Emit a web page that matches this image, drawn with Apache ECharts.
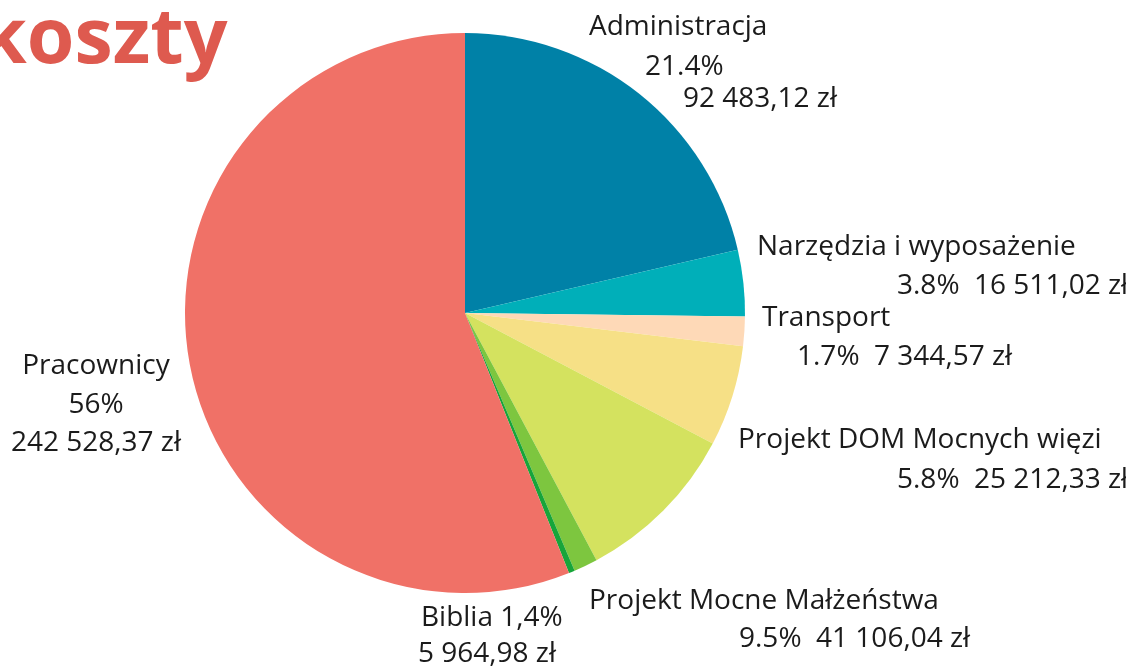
<!DOCTYPE html>
<html>
<head>
<meta charset="utf-8">
<script src="https://cdn.jsdelivr.net/npm/echarts@6/dist/echarts.min.js"></script>
<style>
html,body{margin:0;padding:0;background:#fff;}
#chart{width:1126px;height:667px;}
</style>
</head>
<body>
<div id="chart"></div>
<script>
// ---- data ----
const categories = ['Administracja', 'Narzędzia i wyposażenie', 'Transport', 'Projekt DOM Mocnych więzi', 'Projekt Mocne Małżeństwa', 'Biblia', 'Inne', 'Pracownicy'];
const values = [92483.12, 16511.02, 7344.57, 25212.33, 41106.04, 5964.98, 1500, 242528.37];
const percentLabels = ['21.4%', '3.8%', '1.7%', '5.8%', '9.5%', '1,4%', '', '56%'];
const amountLabels = ['92 483,12 zł', '16 511,02 zł', '7 344,57 zł', '25 212,33 zł', '41 106,04 zł', '5 964,98 zł', '', '242 528,37 zł'];
const title = 'koszty';

// ---- styles / layout ----
const colors = ['#0081A7', '#00AFB9', '#FED9B7', '#F6E086', '#D4E25F', '#7DC63F', '#17A53A', '#F07167'];
function linesFor(i) {
  const n = categories[i], p = percentLabels[i], a = amountLabels[i];
  if (i === 0 || i === 7) return [n, p, a];
  if (i === 5) return [n + ' ' + p, a];
  if (i === 6) return [];
  return [n, p + '  ' + a];
}
// label block layout: x, top y, align, per-line left padding, per-line line height
const labelLayouts = [
  {x: 589, y: 5, align: 'left', pads: [0, 56, 94], lh: [44, 36, 28]},
  {x: 757, y: 227.5, align: 'left', pads: [0, 140], lh: [39, 39]},
  {x: 762, y: 298.5, align: 'left', pads: [0, 35], lh: [39, 39]},
  {x: 738, y: 420, align: 'left', pads: [0, 159], lh: [40, 40]},
  {x: 589, y: 582, align: 'left', pads: [0, 150], lh: [38, 38]},
  {x: 418, y: 600, align: 'left', pads: [3, 0], lh: [36, 36]},
  null,
  {x: 96, y: 346.5, align: 'center', pads: [0, 0, 0], lh: [39, 39, 38]}
];

const fontFamily = '"Open Sans", sans-serif';
const chart = echarts.init(document.getElementById('chart'));

const data = categories.map((name, i) => {
  const lines = linesFor(i);
  const L = labelLayouts[i];
  const rich = {};
  const parts = lines.map((t, k) => {
    rich['l' + k] = {
      fontSize: 28, fontFamily: fontFamily, color: '#1b1b1b',
      lineHeight: L.lh[k], padding: [0, 0, 0, L.pads[k]]
    };
    return '{l' + k + '|' + t + '}';
  });
  return {
    name: name,
    value: values[i],
    itemStyle: {color: colors[i]},
    label: lines.length ? {show: true, formatter: parts.join('\n'), rich: rich} : {show: false}
  };
});

chart.setOption({
  animation: false,
  graphic: [{
    type: 'text', left: -21, top: 3,
    style: {text: title, fontSize: 77, fontWeight: 'bold', fontFamily: fontFamily, fill: '#DE5A4F'}
  }],
  series: [{
    type: 'pie',
    center: [465, 313],
    radius: [0, 280],
    startAngle: 90,
    clockwise: true,
    avoidLabelOverlap: false,
    itemStyle: {borderWidth: 0},
    label: {position: 'outside', fontSize: 28, fontFamily: fontFamily, color: '#1b1b1b'},
    labelLine: {show: false},
    emphasis: {disabled: true},
    labelLayout: function (params) {
      const L = labelLayouts[params.dataIndex];
      if (!L) return {};
      return {x: L.x, y: L.y, align: L.align, verticalAlign: 'top'};
    },
    data: data
  }]
});
</script>
</body>
</html>
